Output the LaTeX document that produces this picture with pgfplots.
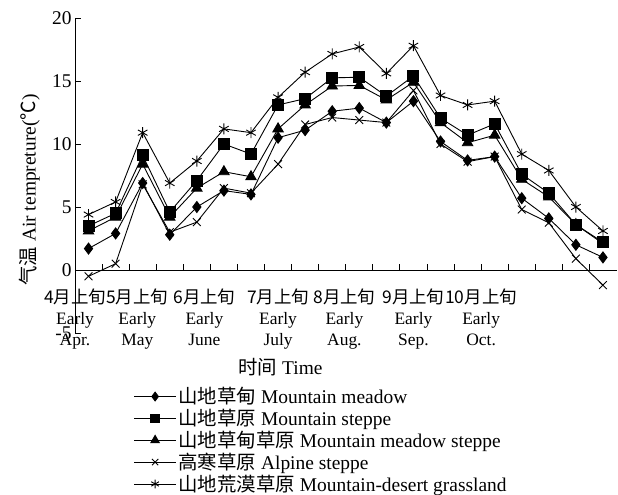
\documentclass[border=0pt]{standalone}
\usepackage{fontspec}
\setmainfont{Liberation Serif}
\newfontfamily\cjk{Noto Sans CJK SC}
\usepackage{pgfplots}
\usepackage{pgfplotstable}
\pgfplotsset{compat=1.18}

\pgfplotstableread{
x meadow steppe mstep alpine desert
0 1.7 3.5 3.1 -0.5 4.4
1 2.9 4.5 4.2 0.5 5.4
2 6.9 9.1 8.4 6.8 10.9
3 2.8 4.6 4.2 3.0 6.9
4 5.0 7.1 6.5 3.8 8.65
5 6.3 10.0 7.8 6.5 11.2
6 6.0 9.2 7.4 6.1 10.9
7 10.5 13.1 11.2 8.4 13.7
8 11.1 13.6 13.1 11.55 15.7
9 12.6 15.25 14.6 12.1 17.15
10 12.85 15.3 14.65 11.9 17.7
11 11.7 13.8 13.5 11.7 15.6
12 13.4 15.4 14.9 14.25 17.8
13 10.2 12.05 11.7 10.0 13.85
14 8.7 10.7 10.1 8.6 13.1
15 9.0 11.6 10.7 9.0 13.4
16 5.7 7.6 7.2 4.8 9.2
17 4.1 6.1 5.8 3.75 7.9
18 2.0 3.6 3.6 0.9 5.0
19 1.0 2.2 2.1 -1.2 3.1
}\datatable

\begin{document}
\begin{tikzpicture}[font=\fontsize{19.5}{22}\selectfont]
\begin{axis}[
  at={(75bp,-333bp)}, anchor=south west,
  scale only axis, width=541.5bp, height=315bp,
  xmin=-0.5, xmax=19.5, ymin=-5, ymax=20,
  axis x line=middle, axis y line=left,
  axis line style={-, line width=0.9bp, black},
  hide obscured x ticks=false, hide obscured y ticks=false,
  ytick={-5,0,5,10,15,20},
  yticklabels={-5,0,5,10,15,20},
  xtick={-0.5,1.8,4.28,7.0,9.45,12.0,14.5},
  xticklabels={
    {{\cjk 4月上旬}\\Early\\Apr.},
    {{\cjk 5月上旬}\\Early\\May},
    {{\cjk 6月上旬}\\Early\\June},
    {{\cjk 7月上旬}\\Early\\July},
    {{\cjk 8月上旬}\\Early\\Aug.},
    {{\cjk 9月上旬}\\Early\\Sep.},
    {{\cjk 10月上旬}\\Early\\Oct.}},
  minor xtick={0.5,1.5,...,18.5},
  major x tick style={draw=none},
  tick align=inside,
  major tick length=6bp, minor tick length=6bp,
  tick style={line width=0.9bp, black},
  xticklabel style={align=center, font=\fontsize{17.5}{21}\selectfont, yshift=-15bp},
  yticklabel style={font=\fontsize{19.5}{22}\selectfont},
  xlabel={{\cjk 时间} Time},
  ylabel={{\cjk 气温} Air tempreture({\cjk ℃})},
  every axis x label/.style={at={(axis cs:7.09,-7.7)}, anchor=center},
  every axis y label/.style={at={(axis cs:-2.18,6.35)}, rotate=90, anchor=center},
  every axis plot/.append style={black, line width=0.9bp, mark options={solid, fill=black}},
  legend style={at={(axis cs:1.55,-9.0)}, anchor=north west, draw=none, fill=none,
    font=\fontsize{19.5}{20}\selectfont, row sep=0bp},
  legend cell align=left,
  legend image code/.code={\draw[mark repeat=2,mark phase=2, mark options={scale=0.8}] plot coordinates {(0cm,0cm) (0.74cm,0cm) (1.48cm,0cm)};},
]
\addplot[mark=diamond*, mark size=5.5bp] table[x=x, y=meadow] {\datatable};
\addlegendentry{{\cjk 山地草甸} Mountain meadow}
\addplot[mark=square*, mark size=5.5bp] table[x=x, y=steppe] {\datatable};
\addlegendentry{{\cjk 山地草原} Mountain steppe}
\addplot[mark=triangle*, mark size=6bp] table[x=x, y=mstep] {\datatable};
\addlegendentry{{\cjk 山地草甸草原} Mountain meadow steppe}
\addplot[mark=x, mark size=5.5bp] table[x=x, y=alpine] {\datatable};
\addlegendentry{{\cjk 高寒草原} Alpine steppe}
\addplot[mark=asterisk, mark size=5.5bp] table[x=x, y=desert] {\datatable};
\addlegendentry{{\cjk 山地荒漠草原} Mountain-desert grassland}
\end{axis}
\pgfresetboundingbox
\path (0,0) rectangle (618bp,-495bp);
\end{tikzpicture}
\end{document}
